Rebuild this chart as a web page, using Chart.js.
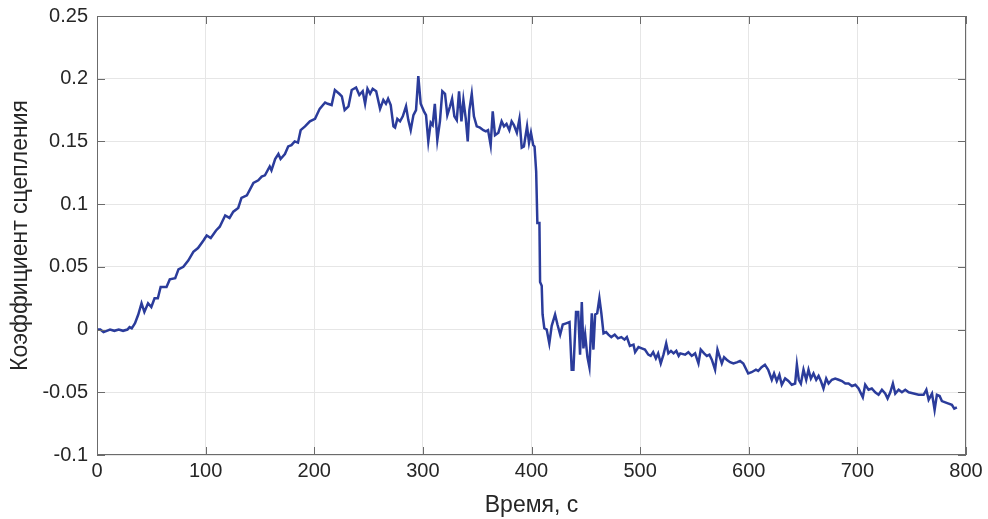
<!DOCTYPE html>
<html>
<head>
<meta charset="utf-8">
<script src="https://cdn.jsdelivr.net/npm/chart.js@4.4.1/dist/chart.umd.min.js"></script>
<style>
  html, body { margin: 0; padding: 0; background: #fff; }
  #wrap { width: 988px; height: 519px; position: relative; }
</style>
</head>
<body>
<div id="wrap"><canvas id="chart"></canvas></div>
<script>
// Data
const timeS = [
  0, 3, 6, 9, 12, 16, 20, 24, 28, 30, 32, 35, 38, 41, 43.6, 47, 50, 53, 56, 58.6,
  64, 67, 72, 75, 79.5, 84, 88.7, 93, 98, 101, 104.7, 109.6, 113, 118, 122, 125.5,
  130, 133, 138, 144, 148.5, 151.6, 154.6, 159, 160.6, 164, 167, 169, 173, 176,
  179, 182, 185, 187.5, 191.5, 196, 200.7, 205, 210, 212.5, 216, 219, 223, 225.4,
  228, 231.5, 234.5, 238.5, 241.5, 244.6, 246.8, 249, 251.4, 253.8, 257, 260.6,
  263.6, 266, 268, 270.4, 272.9, 274.4, 276.5, 279, 281.5, 284.5, 286.6, 288.8,
  291.3, 293.7, 295.8, 298, 301, 302.9, 305, 307.2, 309, 311, 313.3, 315.7, 317.9,
  320.4, 322.5, 325, 326.9, 329, 331.2, 333.3, 335.5, 337.3, 339.5, 341.3, 342.8,
  345, 347, 349.6, 352.6, 355.7, 358, 360, 362.4, 364.3, 366.4, 369.5, 372.5,
  374.7, 377, 379.6, 381.7, 383.8, 386.5, 388.9, 391, 393, 395.9, 397.7, 399.5,
  401.6, 402.8, 404.3, 405.4, 407.3, 407.9, 409.4, 410.2, 411.8, 414, 416.4, 418.6,
  421.7, 423.9, 426.4, 428.8, 431.9, 435, 437, 438.6, 441, 443, 444.7, 446.3,
  447.8, 449.4, 451.5, 453.3, 455.5, 457, 458.6, 460.5, 462.5, 464.3, 466.3, 468.7,
  470.8, 473.5, 476.6, 479.6, 482.7, 485.6, 487.8, 490.6, 493.9, 495.4, 498.5,
  501.5, 504.4, 507.5, 509.7, 512, 514.5, 516.6, 519, 521.5, 524, 526, 528.4, 530.8,
  533.3, 535.5, 537, 541.4, 544.4, 547.5, 550.6, 553.7, 555.8, 558.9, 561.4, 563.8,
  566, 569, 571.2, 573, 575.2, 577.3, 579.7, 582.8, 585.9, 589.6, 592, 595, 599.5,
  602.6, 606.6, 608.7, 611.8, 614.9, 617.9, 621.2, 623.3, 625.8, 628.2, 630.4,
  633.5, 636.5, 639.6, 642.7, 644.3, 646.1, 648, 650.4, 652.9, 655, 657.2, 659.6,
  662.1, 664.3, 666.4, 668.8, 671.3, 673.5, 676.5, 679.6, 682.7, 685.8, 688.9,
  691.9, 695, 698.1, 701.1, 705, 707.2, 710.3, 713.3, 716.4, 719.5, 722.6, 725.6,
  727.8, 730.3, 732.7, 734.9, 738, 741, 744.1, 747.2, 751.8, 756.4, 761, 763.5,
  765.6, 768.7, 771.1, 773.2, 775.7, 777.8, 780.9, 784, 787, 789.2, 791.6,
];

const adhesion = [
  0.000, 0.000, -0.002, -0.001, 0.000, -0.001, 0.000, -0.001, 0.000, 0.002, 0.001, 0.005, 0.012, 0.021, 0.014, 0.021, 0.018, 0.025, 0.025, 0.034,
  0.034, 0.040, 0.041, 0.048, 0.050, 0.055, 0.062, 0.065, 0.071, 0.075, 0.073, 0.079, 0.082, 0.091, 0.089, 0.094,
  0.097, 0.105, 0.107, 0.117, 0.119, 0.122, 0.123, 0.130, 0.127, 0.136, 0.140, 0.136, 0.140, 0.146,
  0.147, 0.150, 0.149, 0.159, 0.162, 0.166, 0.168, 0.176, 0.181, 0.180, 0.179, 0.191, 0.188, 0.186,
  0.175, 0.178, 0.191, 0.193, 0.187, 0.190, 0.180, 0.192, 0.188, 0.192, 0.190, 0.176,
  0.183, 0.180, 0.184, 0.179, 0.162, 0.161, 0.168, 0.166, 0.170, 0.178, 0.167, 0.159,
  0.171, 0.175, 0.202, 0.180, 0.174, 0.171, 0.150, 0.165, 0.163, 0.180, 0.151, 0.166, 0.190,
  0.188, 0.171, 0.178, 0.184, 0.170, 0.167, 0.190, 0.166, 0.183, 0.168, 0.150, 0.175,
  0.188, 0.170, 0.162, 0.161, 0.159, 0.158, 0.159, 0.147, 0.174, 0.155, 0.157, 0.166,
  0.162, 0.164, 0.159, 0.166, 0.163, 0.157, 0.168, 0.145, 0.146, 0.162, 0.149, 0.157,
  0.147, 0.146, 0.126, 0.085, 0.085, 0.038, 0.035, 0.012, 0.001, 0.000, -0.011, 0.003,
  0.012, 0.004, -0.004, 0.004, 0.005, 0.006, -0.032, -0.032, 0.014, 0.014, -0.020, 0.022,
  -0.015, -0.004, -0.022, -0.030, 0.013, -0.016, 0.012, 0.013, 0.025, 0.013, -0.003, -0.002,
  -0.004, -0.006, -0.004, -0.007, -0.006, -0.008, -0.006, -0.013, -0.012, -0.018, -0.014,
  -0.015, -0.016, -0.020, -0.021, -0.018, -0.023, -0.019, -0.027, -0.020, -0.011, -0.019, -0.017, -0.019,
  -0.017, -0.021, -0.019, -0.020, -0.018, -0.021, -0.019, -0.027, -0.016, -0.019, -0.021, -0.020,
  -0.024, -0.032, -0.016, -0.021, -0.027, -0.022, -0.024, -0.026, -0.027, -0.026, -0.025, -0.027, -0.035,
  -0.034, -0.032, -0.033, -0.030, -0.028, -0.032, -0.040, -0.035, -0.041, -0.036, -0.044,
  -0.039, -0.041, -0.044, -0.043, -0.028, -0.040, -0.043, -0.032, -0.040, -0.032, -0.039, -0.035,
  -0.040, -0.037, -0.041, -0.047, -0.039, -0.043, -0.040, -0.039, -0.040, -0.041, -0.043,
  -0.043, -0.045, -0.044, -0.047, -0.054, -0.044, -0.048, -0.047, -0.050, -0.052, -0.048, -0.051,
  -0.055, -0.050, -0.043, -0.051, -0.048, -0.050, -0.048, -0.050, -0.051, -0.052, -0.052, -0.048,
  -0.056, -0.051, -0.064, -0.052, -0.053, -0.057, -0.058, -0.059, -0.060, -0.063, -0.062,
];

const xTicks = [0, 100, 200, 300, 400, 500, 600, 700, 800];
const yTicks = [-0.1, -0.05, 0, 0.05, 0.1, 0.15, 0.2, 0.25];
const yTickLabels = ["-0.1", "-0.05", "0", "0.05", "0.1", "0.15", "0.2", "0.25"];

const FONT = "'Liberation Sans', Arial, sans-serif";
const AXIS_COLOR = "#6b6b6b";
const TEXT_COLOR = "#262626";

// MATLAB-like box with inward ticks
const boxPlugin = {
  id: "boxPlugin",
  afterDraw(c) {
    const { ctx, chartArea: a, scales } = c;
    ctx.save();
    ctx.strokeStyle = AXIS_COLOR;
    ctx.lineWidth = 1;
    ctx.strokeRect(a.left + 0.5, a.top + 0.5, a.right - a.left - 1, a.bottom - a.top - 1);
    ctx.beginPath();
    xTicks.forEach((v) => {
      const x = Math.round(scales.x.getPixelForValue(v)) + 0.5;
      ctx.moveTo(x, a.bottom);
      ctx.lineTo(x, a.bottom - 8);
      ctx.moveTo(x, a.top);
      ctx.lineTo(x, a.top + 8);
    });
    yTicks.forEach((v) => {
      const y = Math.round(scales.y.getPixelForValue(v)) + 0.5;
      ctx.moveTo(a.left, y);
      ctx.lineTo(a.left + 8, y);
      ctx.moveTo(a.right, y);
      ctx.lineTo(a.right - 8, y);
    });
    ctx.stroke();
    ctx.restore();
  },
};

new Chart(document.getElementById("chart"), {
  type: "line",
  data: {
    datasets: [
      {
        data: timeS.map((t, i) => ({ x: t, y: adhesion[i] })),
        borderColor: "#2b3c9b",
        borderWidth: 2.5,
        pointRadius: 0,
        tension: 0,
        fill: false,
      },
    ],
  },
  plugins: [boxPlugin],
  options: {
    responsive: true,
    maintainAspectRatio: false,
    animation: false,
    layout: { padding: { top: 16, right: 22, left: 0, bottom: 0 } },
    plugins: { legend: { display: false }, tooltip: { enabled: false } },
    scales: {
      x: {
        type: "linear",
        min: 0,
        max: 800,
        afterBuildTicks: (scale) => {
          scale.ticks = xTicks.map((v) => ({ value: v }));
        },
        afterFit: (scale) => {
          scale.height = 64;
          scale.paddingLeft = 0;
          scale.paddingRight = 0;
        },
        ticks: {
          color: TEXT_COLOR,
          font: { family: FONT, size: 20 },
          padding: 4,
          maxRotation: 0,
          autoSkip: false,
          callback: (v) => String(v),
        },
        grid: { color: "#e6e6e6", drawTicks: false },
        border: { display: false },
        title: {
          display: true,
          text: "Время, с",
          color: TEXT_COLOR,
          font: { family: FONT, size: 23 },
          padding: { top: 10, bottom: 0 },
        },
      },
      y: {
        min: -0.1,
        max: 0.25,
        afterBuildTicks: (scale) => {
          scale.ticks = yTicks.map((v) => ({ value: v }));
        },
        afterFit: (scale) => {
          scale.width = 97;
          scale.paddingTop = 0;
          scale.paddingBottom = 0;
        },
        ticks: {
          color: TEXT_COLOR,
          font: { family: FONT, size: 20 },
          padding: 9,
          autoSkip: false,
          callback: (v) => yTickLabels[yTicks.findIndex((t) => Math.abs(t - v) < 1e-9)],
        },
        grid: { color: "#e6e6e6", drawTicks: false },
        border: { display: false },
        title: {
          display: true,
          text: "Коэффициент сцепления",
          color: TEXT_COLOR,
          font: { family: FONT, size: 23 },
          padding: { top: 7, bottom: 0 },
        },
      },
    },
  },
});
</script>
</body>
</html>
